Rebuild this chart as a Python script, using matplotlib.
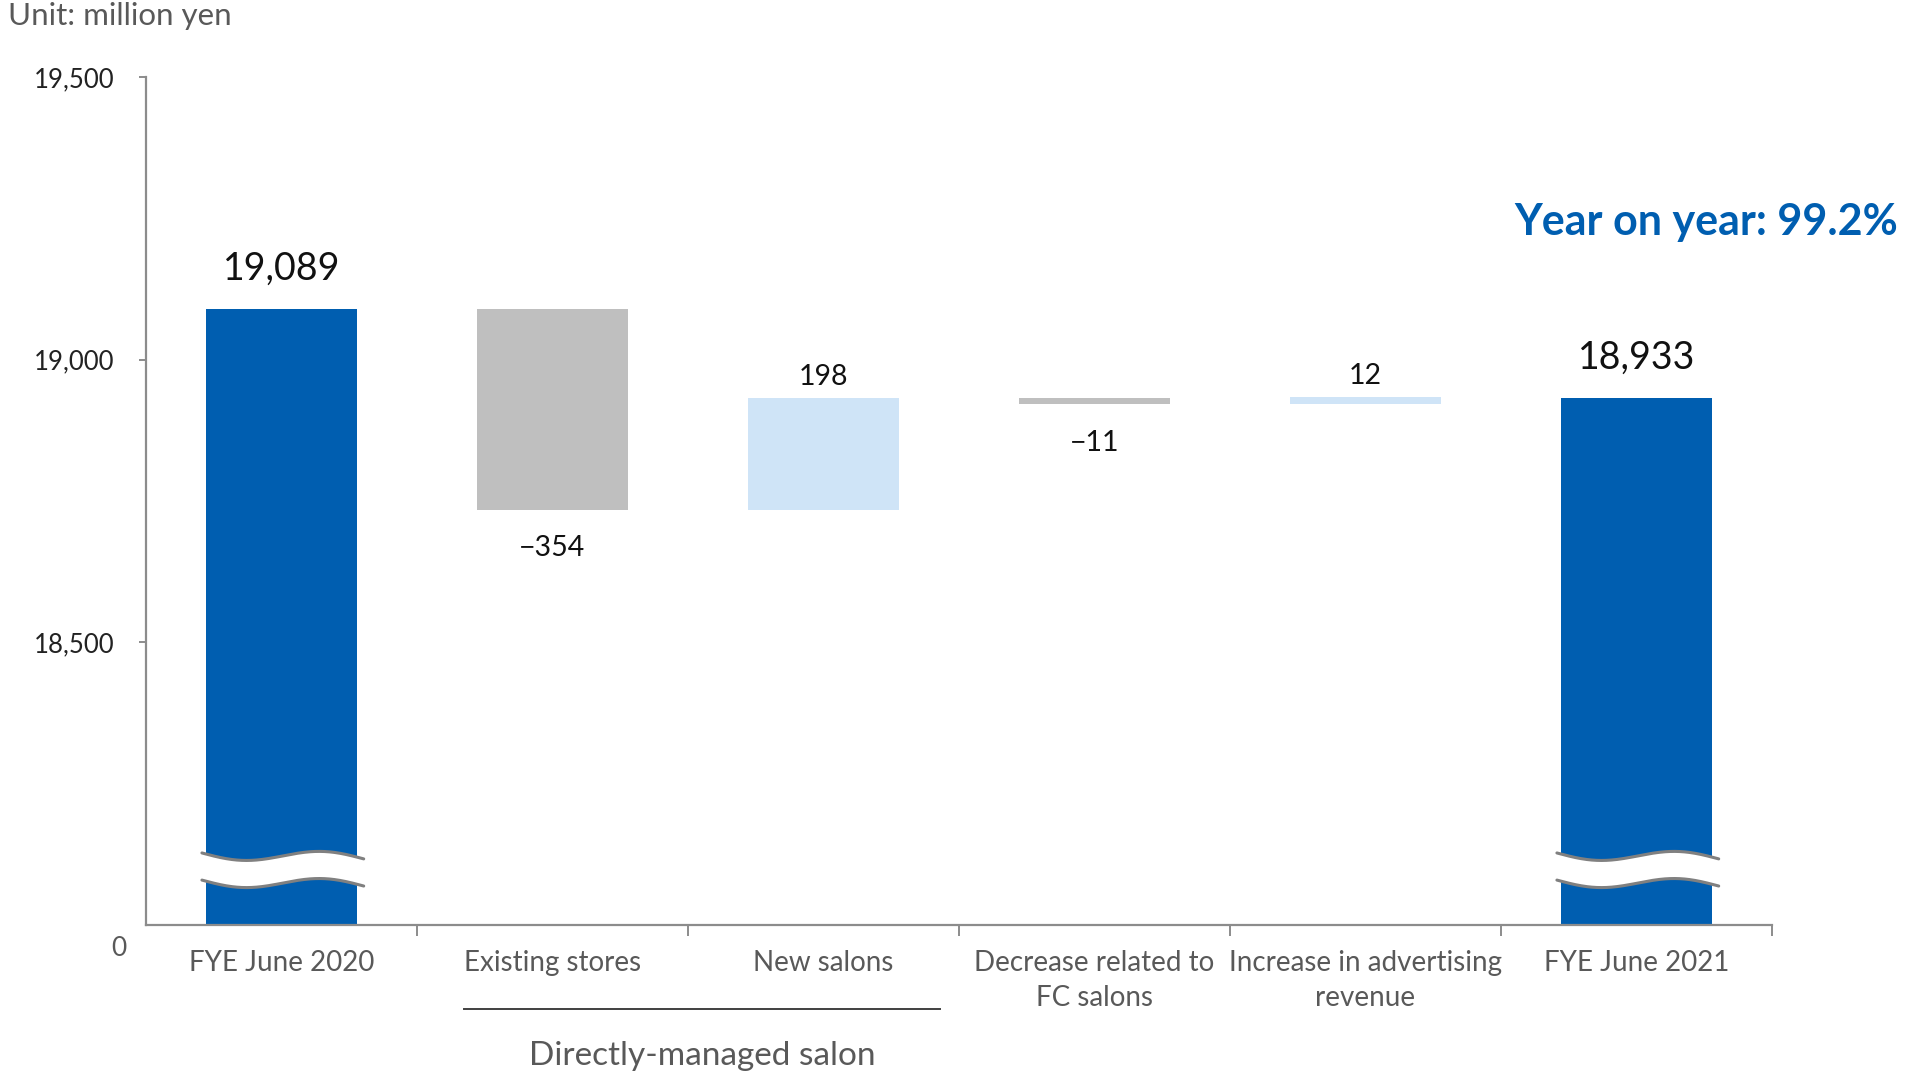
import numpy as np
import matplotlib
matplotlib.use("Agg")
import matplotlib.pyplot as plt

plt.rcParams["font.family"] = ["Lato", "DejaVu Sans"]

categories = ["FYE June 2020", "Existing stores", "New salons",
              "Decrease related to\nFC salons", "Increase in advertising\nrevenue",
              "FYE June 2021"]
start_total = 19089
changes = [-354, 198, -11, 12]
end_total = 18933
yoy_text = "Year on year: 99.2%"
group_label = "Directly-managed salon"
y_ticks = [18500, 19000, 19500]
axis_floor = 18000  # broken axis: bottom is shown as 0

BLUE = "#005EB0"
GREY = "#BFBFBF"
LIGHT = "#CFE4F7"
TEXT_GREY = "#595959"
AXIS_GREY = "#8C8C8C"


def draw_break(ax, xc, width, y0, y1):
    # wavy white gap across the bottom of a total bar
    span = y1 - y0
    t = np.linspace(0, 1, 200)
    x = xc - width / 2 - 0.015 + t * (width + 0.04)
    base = y0 + 0.085 * span
    wave = -0.007 * span * np.sin(2 * np.pi * t) - 0.007 * span * t
    top = base + wave
    bottom = top - 0.032 * span
    ax.fill_between(x, bottom, top, color="white", zorder=3, lw=0)
    ax.plot(x, top, color="#808080", lw=2.2, zorder=4, solid_capstyle="round")
    ax.plot(x, bottom, color="#808080", lw=2.2, zorder=4, solid_capstyle="round")


def main():
    fig = plt.figure(figsize=(19.08, 10.74), dpi=100)
    ax = fig.add_axes([0.0765, 0.1387, 0.8522, 0.7896])

    x = np.arange(len(categories))
    width = 0.557
    y_max = 19500

    # totals
    for xi, val in [(0, start_total), (5, end_total)]:
        ax.bar(xi, val - axis_floor, bottom=axis_floor, width=width, color=BLUE, zorder=2)
        ax.annotate(f"{val:,}", (xi, val), xytext=(0, 21), textcoords="offset points",
                    ha="center", va="baseline", fontsize=27, color="#111111")
        draw_break(ax, xi, width, axis_floor, y_max)

    # changes
    running = start_total
    for i, chg in enumerate(changes):
        xi = x[i + 1]
        lo = min(running, running + chg)
        color = GREY if chg < 0 else LIGHT
        ax.bar(xi, abs(chg), bottom=lo, width=width, color=color, zorder=2)
        label = f"{chg:,}".replace("-", "\u2212")
        if chg < 0:
            ax.annotate(label, (xi, lo), xytext=(0, -28), textcoords="offset points",
                        ha="center", va="center", fontsize=20.5, color="#111111")
        else:
            ax.annotate(label, (xi, lo + abs(chg)), xytext=(0, 9), textcoords="offset points",
                        ha="center", va="baseline", fontsize=20.5, color="#111111")
        running += chg

    ax.set_xlim(-0.5, len(categories) - 0.5)
    ax.set_ylim(axis_floor, y_max)

    ax.set_xticks(x)
    ax.set_xticklabels(categories, fontsize=20, color=TEXT_GREY, linespacing=1.45)
    ax.tick_params(axis="x", which="major", length=0, pad=18)
    ax.set_xticks(np.arange(len(categories)) + 0.5, minor=True)
    ax.tick_params(axis="x", which="minor", length=8, width=1.4, color=AXIS_GREY, direction="out")

    ax.set_yticks(y_ticks)
    ax.set_yticklabels([f"{v:,}" for v in y_ticks], fontsize=18.5, color="#222222")
    ax.tick_params(axis="y", length=5, width=1.4, color=AXIS_GREY, pad=18)
    ax.annotate("0", (0, axis_floor), xycoords=("axes fraction", "data"), xytext=(-14, -17),
                textcoords="offset points", ha="right", va="center", fontsize=19, color=TEXT_GREY)

    for side in ["top", "right"]:
        ax.spines[side].set_visible(False)
    for side in ["left", "bottom"]:
        ax.spines[side].set_color(AXIS_GREY)
        ax.spines[side].set_linewidth(1.6)

    # group bracket under the directly-managed items
    gx0, gx1 = 1 - 0.325, 2 + 0.43
    trans = ax.get_xaxis_transform()
    ax.plot([gx0, gx1], [-0.099, -0.099], transform=trans, color="#404040", lw=1.4, clip_on=False)
    ax.text((gx0 + gx1) / 2, -0.154, group_label, transform=trans, ha="center", va="center",
            fontsize=24, color=TEXT_GREY)

    fig.text(0.004, 0.985, "Unit: million yen", ha="left", va="center", fontsize=22.5, color=TEXT_GREY)
    fig.text(0.995, 0.793, yoy_text, ha="right", va="center", fontsize=31,
             fontweight="bold", color=BLUE)

    fig.savefig("out.png", dpi=100)


if __name__ == "__main__":
    main()
